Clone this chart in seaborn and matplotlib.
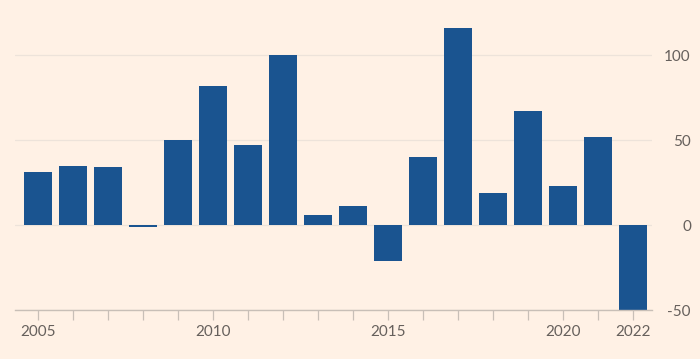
import matplotlib
matplotlib.use("Agg")
import matplotlib.pyplot as plt
import seaborn as sns
import pandas as pd

# yearly values
years = list(range(2005, 2023))
values = [31, 35, 34, -1, 50, 82, 47, 100, 6, 11, -21, 40, 116, 19, 67, 23, 52, -50]
labelled_years = [2005, 2010, 2015, 2020, 2022]
y_ticks = [-50, 0, 50, 100]

bg = "#FFF1E5"
bar_col = "#1A5490"
txt = "#66605C"

sns.set_theme(style="white")
plt.rcParams['font.family'] = ['Lato', 'DejaVu Sans']
plt.rcParams['axes.unicode_minus'] = False

df = pd.DataFrame({"year": years, "value": values})

fig = plt.figure(figsize=(7, 3.59), dpi=100, facecolor=bg)
ax = fig.add_axes([15/700, (359-310)/359, (652-15)/700, 300/359])
ax.set_facecolor(bg)

sns.barplot(data=df, x="year", y="value", native_scale=True, color=bar_col,
            width=0.8, saturation=1, linewidth=0, ax=ax, zorder=3)

ax.set_xlim(2004.35, 2022.55)
ax.set_ylim(-50, 126.5)

ax.set_yticks(y_ticks)
ax.yaxis.tick_right()
ax.tick_params(axis="y", length=0, pad=28, labelsize=11, labelcolor=txt)
for lab in ax.get_yticklabels():
    lab.set_horizontalalignment("right")
ax.grid(axis="y", color="#EDE3DA", linewidth=0.9, zorder=0)

ax.set_xticks(years)
ax.set_xticklabels([str(y) if y in labelled_years else "" for y in years])
ax.tick_params(axis="x", bottom=True, length=7, width=0.9, color="#C8BFB7", pad=4,
               labelsize=11, labelcolor=txt)

for s in ["top", "left", "right"]:
    ax.spines[s].set_visible(False)
ax.spines["bottom"].set_color("#C8BFB7")
ax.spines["bottom"].set_linewidth(1)
ax.spines["bottom"].set_zorder(4)

ax.set_xlabel("")
ax.set_ylabel("")

fig.savefig("out.png", dpi=100, facecolor=bg)
